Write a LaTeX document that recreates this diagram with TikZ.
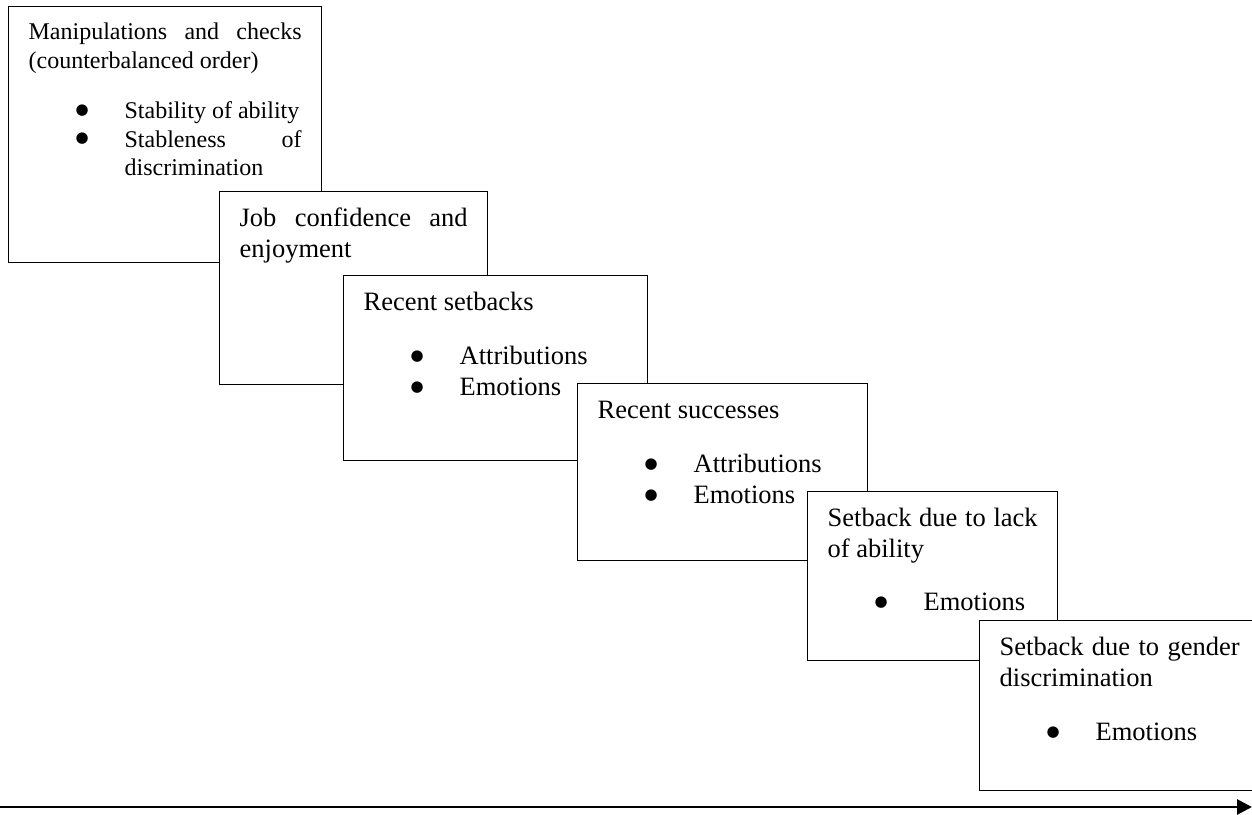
\documentclass[tikz,border=0pt]{standalone}
\usepackage{fontspec}
\setmainfont{Liberation Serif}
\newfontfamily\dotfont{DejaVu Sans}
\usetikzlibrary{arrows.meta}
% bullet line: dot near 47pt, text at 96pt, wrapped lines hang under the text
\newcommand\bitem[1]{\par\hangindent=96pt\hangafter=1\noindent\hspace*{47pt}%
  \makebox[49pt][l]{\raisebox{4.5pt}{\dotfont\fontsize{15}{15}\selectfont ●}}#1}
% width, height, first baseline, content
\newcommand\phasetext[4]{\parbox[t][#2][t]{#1}{\tolerance=10000\hyphenpenalty=10000\rule{0pt}{#3}#4}}

\begin{document}
\begin{tikzpicture}[x=1pt, y=-1pt,
  phase/.style={draw, fill=white, line width=1.3pt, inner xsep=20pt, inner ysep=0pt,
    anchor=north west, font=\fontsize{26.5}{31}\selectfont}]
  \useasboundingbox (0,0) rectangle (1252,814);

  % boxes, each one laid over the one before
  \node[phase, font=\fontsize{24}{28.5}\selectfont] (checks) at (8,6)
    {\phasetext{273pt}{256pt}{33pt}{Manipulations and checks\linebreak (counterbalanced order)\par\vspace{22pt}%
      \bitem{Stability of ability}\bitem{Stableness of\linebreak discrimination}}};
  \node[phase] (confidence) at (219,191)
    {\phasetext{228pt}{193pt}{35pt}{Job confidence and\linebreak enjoyment}};
  \node[phase] (setbacks) at (343,275)
    {\phasetext{264pt}{185pt}{35pt}{Recent setbacks\par\vspace{23pt}\bitem{Attributions}\bitem{Emotions}}};
  \node[phase] (successes) at (577,383)
    {\phasetext{250pt}{177pt}{35pt}{Recent successes\par\vspace{23pt}\bitem{Attributions}\bitem{Emotions}}};
  \node[phase] (ability) at (807,491)
    {\phasetext{210pt}{169pt}{35pt}{Setback due to lack\linebreak of ability\par\vspace{22pt}\bitem{Emotions}}};
  \node[phase] (gender) at (979,620)
    {\phasetext{240pt}{170pt}{35pt}{Setback due to gender\linebreak discrimination\par\vspace{23pt}\bitem{Emotions}}};

  % time axis
  \coordinate (tstart) at (0,807);
  \coordinate (tend) at (1252,807);
  \draw[line width=2.8pt, -{Triangle[length=15pt,width=15pt]}] (tstart) -- (tend);
\end{tikzpicture}
\end{document}
